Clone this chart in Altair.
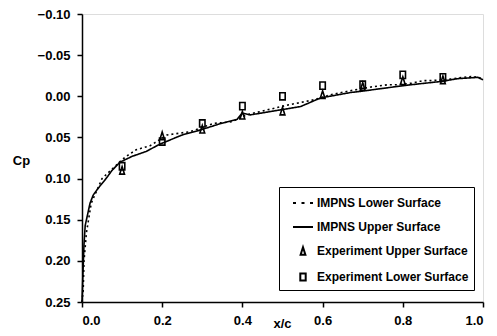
import altair as alt
import pandas as pd

# ---- data ----
upper_x = [0.000, 0.002, 0.005, 0.008, 0.020, 0.028, 0.040, 0.060, 0.075, 0.095, 0.125, 0.160, 0.195,
           0.250, 0.295, 0.340, 0.387, 0.399, 0.420, 0.470, 0.495, 0.545, 0.595, 0.670, 0.695, 0.787,
           0.820, 0.895, 0.937, 0.987, 1.000]
upper_cp = [0.250, 0.220, 0.180, 0.157, 0.130, 0.120, 0.112, 0.100, 0.090, 0.080, 0.073, 0.067, 0.058,
            0.047, 0.041, 0.034, 0.028, 0.0205, 0.0226, 0.0185, 0.0165, 0.0125, 0.002, -0.0046, -0.006, -0.012,
            -0.014, -0.018, -0.0214, -0.023, -0.020]

lower_x = [0.000, 0.003, 0.005, 0.011, 0.023, 0.050, 0.100, 0.115, 0.135, 0.170, 0.212, 0.270, 0.328,
           0.374, 0.410, 0.445, 0.515, 0.545, 0.578, 0.620, 0.660, 0.720, 0.762, 0.783, 0.824, 0.850,
           0.865, 0.900, 0.920, 0.950, 0.970, 0.990, 1.000]
lower_cp = [0.250, 0.236, 0.200, 0.166, 0.130, 0.100, 0.077, 0.0715, 0.065, 0.060, 0.047, 0.043, 0.033,
            0.031, 0.0226, 0.0185, 0.0104, 0.0076, 0.0043, -0.0018, -0.0059, -0.0112, -0.014, -0.014, -0.016, -0.019,
            -0.019, -0.020, -0.021, -0.023, -0.024, -0.023, -0.020]

exp_x = [0.1, 0.2, 0.3, 0.4, 0.5, 0.6, 0.7, 0.8, 0.9]
exp_upper = [0.090, 0.048, 0.040, 0.023, 0.018, -0.002, -0.012, -0.019, -0.020]
exp_lower = [0.085, 0.055, 0.033, 0.012, 0.000, -0.013, -0.014, -0.026, -0.023]

series_names = ["IMPNS Lower Surface", "IMPNS Upper Surface",
                "Experiment Upper Surface", "Experiment Lower Surface"]
y_ticks = [-0.10, -0.05, 0.00, 0.05, 0.10, 0.15, 0.20, 0.25]
x_ticks = [0.0, 0.2, 0.4, 0.6, 0.8, 1.0]

# ---- tables ----
lines_df = pd.concat([
    pd.DataFrame({"x": lower_x, "cp": lower_cp, "series": series_names[0], "i": range(len(lower_x))}),
    pd.DataFrame({"x": upper_x, "cp": upper_cp, "series": series_names[1], "i": range(len(upper_x))}),
])
pts_df = pd.concat([
    pd.DataFrame({"x": exp_x, "cp": exp_upper, "series": series_names[2]}),
    pd.DataFrame({"x": exp_x, "cp": exp_lower, "series": series_names[3]}),
])

FONT = "Liberation Sans"

xscale = alt.Scale(domain=[0, 1], nice=False, zero=False)
yscale = alt.Scale(domain=[-0.10, 0.25], reverse=True, nice=False, zero=False)

common_axis = dict(grid=False, domainColor="black", domainWidth=1.5, tickColor="black", tickWidth=1.5,
                   tickSize=5, labelFont=FONT, labelFontWeight="bold", labelFontSize=13,
                   labelColor="black", labelPadding=7,
                   titleFont=FONT, titleFontWeight="bold", titleFontSize=13, titleColor="black")

xaxis = alt.Axis(values=x_ticks, format=".1f", title="x/c", titleX=200, titleY=25,
                 titleBaseline="alphabetic", titleAlign="center", **common_axis)
yaxis = alt.Axis(values=y_ticks, format=".2f", title="Cp", titleAngle=0, titleX=-61, titleY=146,
                 titleAlign="center", titleBaseline="middle", **common_axis)

shape_paths = [
    "M-1,0H-0.7M-0.15,0H0.15M0.7,0H1",
    "M-1,0H1",
    "M0,-0.38L0.24,0.38L-0.24,0.38Z",
    "M-0.27,-0.36H0.27V0.36H-0.27Z",
]

lines = alt.Chart(lines_df).mark_line(color="black", strokeWidth=1.6).encode(
    x=alt.X("x:Q", scale=xscale, axis=xaxis),
    y=alt.Y("cp:Q", scale=yscale, axis=yaxis),
    detail="series:N",
    order="i:Q",
    strokeDash=alt.StrokeDash("series:N", legend=None,
                              scale=alt.Scale(domain=series_names[:2], range=[[2, 3], [1, 0]])),
)

points = alt.Chart(pts_df).mark_point(filled=False, color="black", strokeWidth=1.6, size=400, opacity=1).encode(
    x=alt.X("x:Q", scale=xscale),
    y=alt.Y("cp:Q", scale=yscale),
    shape=alt.Shape("series:N", scale=alt.Scale(domain=series_names, range=shape_paths),
                    legend=alt.Legend(title=None, orient="none", legendX=197, legendY=173,
                                      padding=5, rowPadding=7, labelOffset=3, symbolOffset=8,
                                      symbolSize=400, symbolStrokeWidth=2, symbolStrokeColor="black",
                                      strokeColor="black", fillColor="white",
                                      labelFont=FONT, labelFontWeight="bold", labelFontSize=12,
                                      labelColor="black")),
)

chart = alt.layer(lines, points).properties(
    width=401, height=288,
    autosize=alt.AutoSizeParams(type="none"),
    padding={"left": 82, "top": 14, "right": 14, "bottom": 34},
).configure_view(
    stroke="#999999", strokeWidth=1.5
).configure(background="white")

chart.save("out.html", embed_options={"renderer": "svg", "actions": False})
